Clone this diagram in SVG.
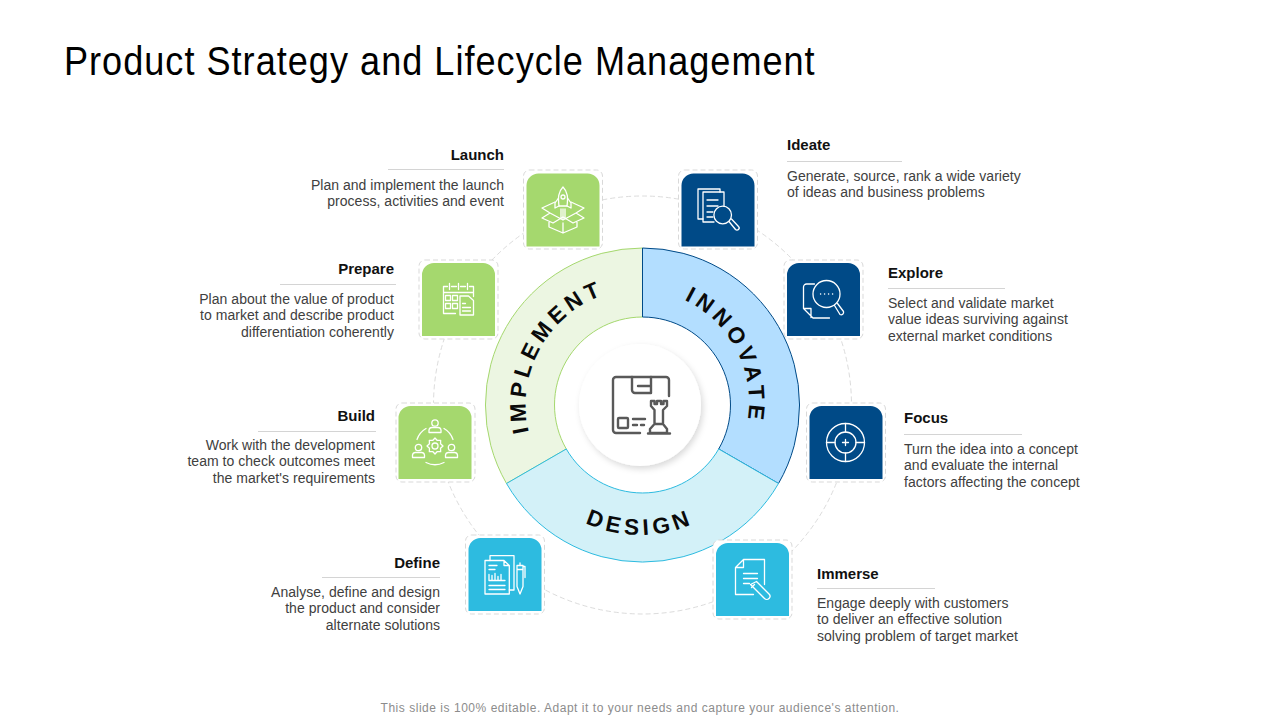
<svg xmlns="http://www.w3.org/2000/svg" width="1280" height="720" viewBox="0 0 1280 720">
<style>
text{font-family:"Liberation Sans",Arial,sans-serif}
.title{font-size:41px;fill:#000;letter-spacing:1.16px}
.head{font-size:15px;font-weight:700;fill:#111}
.body{font-size:14px;fill:#404040;letter-spacing:.03px}
.end{text-anchor:end}
.foot{font-size:12px;fill:#8c8c8c;letter-spacing:.53px;text-anchor:middle}
.ring{font-size:22.500px;font-weight:700;fill:#0a0a0a;letter-spacing:4.500px;text-anchor:middle}
.frame{fill:#fff;stroke:#d9d9d9;stroke-width:1;stroke-dasharray:5 3}
.rule{stroke:#d4d4d4;stroke-width:1;fill:none}
.ic{fill:none;stroke:#fff;stroke-width:1.3;stroke-linecap:round;stroke-linejoin:round}
.ctr{fill:none;stroke:#595959;stroke-width:2.4;stroke-linecap:round;stroke-linejoin:round}
.g{fill:#a5d86e}.n{fill:#004a87}.c{fill:#2dbbe0}
</style>
<defs>
<filter id="sh" x="-30%" y="-30%" width="160%" height="160%"><feDropShadow dx="2" dy="3" stdDeviation="3" flood-color="#000" flood-opacity=".15"/></filter>
<path id="pi" d="M568.900 495.900A117 117 0 0 1 680.600 294.400"/>
<path id="pn" d="M600.100 294.800A113 113 0 0 1 706.300 490.400"/>
<path id="pd" d="M510 405A130 130 0 0 0 770 405"/>
<path id="tile" d="M-36.500 36.500V-24.500a12 12 0 0 1 12-12H24.500a12 12 0 0 1 12 12V36.500Z"/>
</defs>
<rect width="1280" height="720" fill="#fff"/>
<text class="title" transform="translate(64 75) scale(.88 1)">Product Strategy and Lifecycle Management</text>

<g id="connectors">
<circle cx="642.500" cy="405" r="209" fill="none" stroke="#dcdcdc" stroke-width="1" stroke-dasharray="5 3"/>
</g>

<g id="ring">
<g id="implement">
<path d="M642.500 248A157 157 0 0 0 506.500 483.500L566.300 449A88 88 0 0 1 642.500 317Z" fill="#ecf6e2" stroke="#a5d86e"/>
<text class="ring"><textPath href="#pi" startOffset="50%">IMPLEMENT</textPath></text>
</g>
<g id="innovate">
<path d="M642.500 248A157 157 0 0 1 778.500 483.500L718.700 449A88 88 0 0 0 642.500 317Z" fill="#b3deff" stroke="#004a87"/>
<text class="ring"><textPath href="#pn" startOffset="51%">INNOVATE</textPath></text>
</g>
<g id="design">
<path d="M506.500 483.500A157 157 0 0 0 778.500 483.500L718.700 449A88 88 0 0 1 566.300 449Z" fill="#d3f1f8" stroke="#2dbbe0"/>
<text class="ring"><textPath href="#pd" startOffset="50%">DESIGN</textPath></text>
</g>
</g>

<g id="center">
<circle cx="640" cy="405" r="61" fill="#fff" filter="url(#sh)"/>
<path class="ctr" d="M640 433H616a3 3 0 0 1-3-3V380a3 3 0 0 1 3-3H666a3 3 0 0 1 3 3V396"/>
<path class="ctr" d="M632 377V390a3 3 0 0 0 3 3H651V377M651 386H638"/>
<rect class="ctr" x="618" y="418" width="10" height="10" rx="1"/>
<path class="ctr" d="M633 419H645M633 425H637M641 425H644"/>
<path class="ctr" d="M651 401H654.500V404H657V401H661V404H663.500V401H667V406L663 410V424L667 429V433H650V429L654.500 424V410L651 406ZM648 433.500H670M656 424H662"/>
</g>

<g id="launch">
<rect class="frame" x="523.500" y="170" width="79" height="79" rx="6"/>
<use href="#tile" class="g" x="563" y="210"/>
<g class="ic" transform="translate(563 210)">
<path d="M0-23C-5-18-5-12-4-4H4C5-12 5-18 0-23Z"/><circle cx="0" cy="-13" r="2"/>
<path d="M-4.500-12L-8-7V-2L-4-4M4.500-12L8-7V-2L4-4M-2-1V8M0-1V9M2-1V8"/>
<path d="M-8-8L-21-2L-13 3L-21 8L-10 13L0 7L10 13L21 8L13 3L21-2L8-8M-13 3L0 10L13 3M-14 12V17L0 23L14 17V12M0 23V13"/>
</g>
<text class="head end" x="504" y="160">Launch</text>
<path class="rule" d="M388 169.500H504"/>
<text class="body end" x="504" y="190">Plan and implement the launch</text>
<text class="body end" x="504" y="206">process, activities and event</text>
</g>

<g id="prepare">
<rect class="frame" x="419" y="260" width="79" height="79" rx="6"/>
<use href="#tile" class="g" x="458.500" y="299.500"/>
<g class="ic" transform="translate(458.500 299.500)">
<path d="M-11-13H-15V14H-3M-7-13H-2M2-13H7M11-13H15V-3M-15-7H15M-9-16V-10M0-16V-10M9-16V-10"/>
<rect x="-13" y="-4" width="5" height="5"/><rect x="-6" y="-4" width="5" height="5"/><rect x="-13" y="4" width="5" height="5"/><rect x="-6" y="4" width="5" height="5"/>
<path d="M1.500 15.500V-3.500H10L15 1V15.500ZM4 4H7M4 8H12M4 11.500H12"/>
</g>
<text class="head end" x="394" y="274">Prepare</text>
<path class="rule" d="M280 284.500H396"/>
<text class="body end" x="394" y="304">Plan about the value of product</text>
<text class="body end" x="394" y="320">to market and describe product</text>
<text class="body end" x="394" y="337">differentiation coherently</text>
</g>

<g id="build">
<rect class="frame" x="396" y="403" width="79" height="79" rx="6"/>
<use href="#tile" class="g" x="435" y="442.500"/>
<g class="ic" transform="translate(435 442.500)">
<circle cx="0" cy="3.500" r="3"/>
<path transform="translate(0 3.500)" d="M8 0L5.540 2.300L5.660 5.660L2.300 5.540L0 8L-2.300 5.540L-5.660 5.660L-5.540 2.300L-8 0L-5.540-2.300L-5.660-5.660L-2.300-5.540L0-8L2.300-5.540L5.660-5.660L5.540-2.300Z"/>
<circle cx="0" cy="-19.500" r="3.200"/><path d="M-6-10V-12.500A3 3 0 0 1-3-15H3A3 3 0 0 1 6-12.500V-10Z"/>
<circle cx="-16.500" cy="5" r="3.200"/><path d="M-22.500 15V12.500A3 3 0 0 1-19.500 10H-13.500A3 3 0 0 1-10.500 12.500V15Z"/>
<circle cx="16.500" cy="5" r="3.200"/><path d="M10.500 15V12.500A3 3 0 0 1 13.500 10H19.500A3 3 0 0 1 22.500 12.500V15Z"/>
<path d="M-18-3A20 20 0 0 1-9-14M9-14A20 20 0 0 1 18-3M-9 20A20 20 0 0 0 9 20"/>
</g>
<text class="head end" x="375" y="421">Build</text>
<path class="rule" d="M258 431.500H376"/>
<text class="body end" x="375" y="450">Work with the development</text>
<text class="body end" x="375" y="466">team to check outcomes meet</text>
<text class="body end" x="375" y="483">the market's requirements</text>
</g>

<g id="define">
<rect class="frame" x="465.500" y="535" width="79" height="79" rx="6"/>
<use href="#tile" class="c" x="505" y="574.500"/>
<g class="ic" transform="translate(505 574.500)">
<path d="M-15-14V-18.800H9V15.500H4.300"/>
<path d="M-20-14H-1L4.300-9V19.500H-20ZM-1-14V-9H4.300M-16-9H-8M-16-5H-10M-16 11H0M-16 15H0"/>
<path d="M-16 0V6H0M-13 6V1M-10 6V-1M-7 6V2M-4 6V0"/>
<path d="M12-9H18V12L15 19.500L12 12ZM12-5H18M18-8H20V3M15-11.500V-9"/>
</g>
<text class="head end" x="440" y="568">Define</text>
<path class="rule" d="M322 577.500H440"/>
<text class="body end" x="440" y="597">Analyse, define and design</text>
<text class="body end" x="440" y="613">the product and consider</text>
<text class="body end" x="440" y="630">alternate solutions</text>
</g>

<g id="ideate">
<rect class="frame" x="678.500" y="170" width="79" height="79" rx="6"/>
<use href="#tile" class="n" x="718" y="210"/>
<g class="ic" transform="translate(718 210)" stroke-width="1.500">
<path d="M-15 9H-20V-21H2V-18"/>
<path d="M-15-18H6V-4M-15-18V12H-4"/>
<path d="M-11-10H0M-11-4H0M-11 2H-5M-11 7H-5"/>
<circle cx="4.700" cy="5" r="8.800"/><path d="M11 11.500L17.500 19.500A2 2 0 0 0 20.500 16.500L13.500 9"/>
</g>
<text class="head" x="787" y="150">Ideate</text>
<path class="rule" d="M787 161.500H902"/>
<text class="body" x="787" y="181">Generate, source, rank a wide variety</text>
<text class="body" x="787" y="197">of ideas and business problems</text>
</g>

<g id="explore">
<rect class="frame" x="784" y="260" width="79" height="79" rx="6"/>
<use href="#tile" class="n" x="823.500" y="299.500"/>
<g class="ic" transform="translate(823.500 299.500)" stroke-width="1.500">
<circle cx="3" cy="-5.500" r="13.500"/>
<path d="M-3-5.500H-2.800M1-5.500H1.200M5-5.500H5.200M9-5.500H9.200"/>
<path d="M-9-15.500H-17A3 3 0 0 0-20-12.500V9L-10.500 18.500H6M-20 9H-12.500V18"/>
<path d="M11 6L16.500 15A2.500 2.500 0 0 0 20 12L14 4"/>
</g>
<text class="head" x="888" y="278">Explore</text>
<path class="rule" d="M888 288.500H1005"/>
<text class="body" x="888" y="308">Select and validate market</text>
<text class="body" x="888" y="324">value ideas surviving against</text>
<text class="body" x="888" y="341">external market conditions</text>
</g>

<g id="focus">
<rect class="frame" x="806.500" y="403" width="79" height="79" rx="6"/>
<use href="#tile" class="n" x="846" y="442.500"/>
<g class="ic" transform="translate(845.500 442.500)">
<circle r="19"/><circle r="10.500"/>
<path d="M0-19V-10.500M0 10.500V19M-19 0H-10.500M10.500 0H19M-3 0H3M0-3V3"/>
</g>
<text class="head" x="904" y="423">Focus</text>
<path class="rule" d="M904 434.500H1022"/>
<text class="body" x="904" y="454">Turn the idea into a concept</text>
<text class="body" x="904" y="470">and evaluate the internal</text>
<text class="body" x="904" y="487">factors affecting the concept</text>
</g>

<g id="immerse">
<rect class="frame" x="713" y="540" width="79" height="79" rx="6"/>
<use href="#tile" class="c" x="752.500" y="579.500"/>
<g class="ic" transform="translate(752.500 579.500)" stroke-width="1.500">
<path d="M12 5V-20H-9L-17-12V15H1M-9-20V-12H-17"/>
<path d="M-9-6H5M-9-1H5M-9 4H-3"/>
<path d="M-2 5L4 2L16.500 14.500A3 3 0 0 1 12 19ZM-1 8L2 5"/>
</g>
<text class="head" x="817" y="579">Immerse</text>
<path class="rule" d="M817 588.500H935"/>
<text class="body" x="817" y="608">Engage deeply with customers</text>
<text class="body" x="817" y="624">to deliver an effective solution</text>
<text class="body" x="817" y="641">solving problem of target market</text>
</g>

<text class="foot" x="640" y="711.500">This slide is 100% editable. Adapt it to your needs and capture your audience's attention.</text>
</svg>
